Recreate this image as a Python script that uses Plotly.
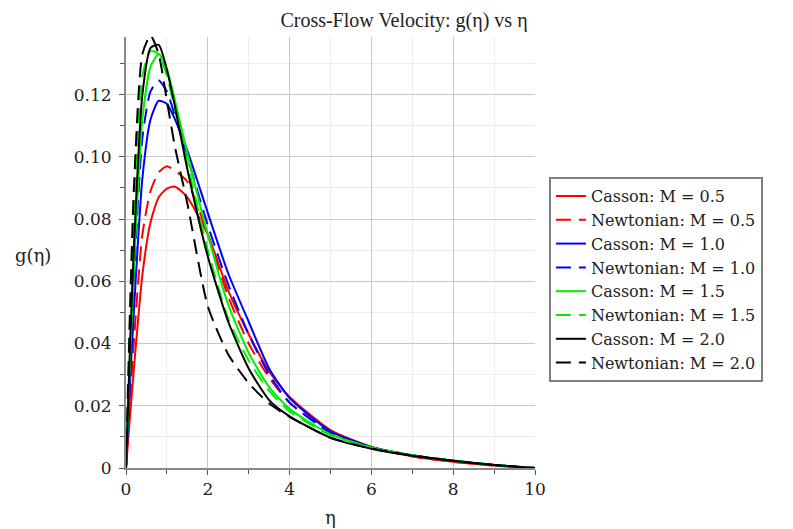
import plotly.graph_objects as go

eta = [0, 0.1, 0.2, 0.4, 0.6, 0.8, 1.0, 1.2, 1.5, 2.0, 2.5, 3.0, 3.5, 4.0, 5.0, 6.0, 7.0, 8.0, 9.0, 10.0]

casson_05 = [0, 0.017, 0.033, 0.062, 0.079, 0.087, 0.0898, 0.0904, 0.087, 0.075, 0.057, 0.043, 0.0310, 0.0228, 0.0122, 0.0068, 0.0038, 0.0020, 0.0008, 0]
newton_05 = [0, 0.022, 0.042, 0.075, 0.089, 0.095, 0.097, 0.0955, 0.092, 0.075, 0.055, 0.040, 0.0290, 0.0210, 0.0116, 0.0066, 0.0037, 0.0020, 0.0008, 0]
casson_10 = [0, 0.028, 0.052, 0.093, 0.112, 0.118, 0.117, 0.112, 0.102, 0.082, 0.0625, 0.047, 0.0320, 0.0225, 0.0118, 0.0068, 0.0041, 0.0023, 0.0010, 0]
newton_10 = [0, 0.034, 0.063, 0.106, 0.121, 0.1245, 0.121, 0.113, 0.100, 0.078, 0.059, 0.043, 0.0300, 0.0210, 0.0113, 0.0067, 0.0041, 0.0024, 0.0010, 0]
casson_15 = [0, 0.036, 0.066, 0.112, 0.129, 0.133, 0.128, 0.118, 0.101, 0.075, 0.0525, 0.037, 0.0260, 0.0190, 0.0108, 0.0066, 0.0040, 0.0023, 0.0010, 0]
newton_15 = [0, 0.045, 0.082, 0.126, 0.134, 0.133, 0.126, 0.115, 0.098, 0.070, 0.048, 0.0345, 0.0248, 0.0182, 0.0105, 0.0066, 0.0041, 0.0024, 0.0010, 0]
casson_20 = [0, 0.040, 0.073, 0.120, 0.135, 0.136, 0.128, 0.116, 0.096, 0.068, 0.047, 0.032, 0.0218, 0.0166, 0.0097, 0.0062, 0.0039, 0.0023, 0.0010, 0]
newton_20 = [0, 0.052, 0.092, 0.133, 0.139, 0.133, 0.118, 0.103, 0.085, 0.052, 0.0365, 0.0273, 0.0207, 0.0164, 0.0097, 0.0063, 0.0040, 0.0023, 0.0010, 0]

series = [
    ("Casson: M = 0.5", casson_05, "#ff0000", "solid"),
    ("Newtonian: M = 0.5", newton_05, "#ff0000", "15px,8px"),
    ("Casson: M = 1.0", casson_10, "#0000ff", "solid"),
    ("Newtonian: M = 1.0", newton_10, "#0000ff", "15px,8px"),
    ("Casson: M = 1.5", casson_15, "#00ee00", "solid"),
    ("Newtonian: M = 1.5", newton_15, "#00ee00", "15px,8px"),
    ("Casson: M = 2.0", casson_20, "#000000", "solid"),
    ("Newtonian: M = 2.0", newton_20, "#000000", "15px,8px"),
]

x_ticks = [0, 2, 4, 6, 8, 10]
y_ticks = [0, 0.02, 0.04, 0.06, 0.08, 0.10, 0.12]
y_tick_text = ["0", "0.02", "0.04", "0.06", "0.08", "0.10", "0.12"]

fig = go.Figure()
for name, vals, color, dash in series:
    fig.add_trace(go.Scatter(
        x=eta, y=vals, name=name, mode="lines",
        line=dict(color=color, width=2, dash=dash, shape="spline", smoothing=0.6),
    ))

text_color = "#222222"
tick_font = dict(family="DejaVu Serif", size=17, color=text_color)

# page body has an 8px margin, so the figure is 8px smaller and shifted
fig.update_layout(
    width=785, height=521,
    margin=dict(l=118, r=258, t=29, b=61),
    paper_bgcolor="white", plot_bgcolor="white",
    title=dict(text="Cross-Flow Velocity: g(η) vs η", x=396/785, xanchor="center",
               y=1 - 12/521, yanchor="middle",
               font=dict(family="Liberation Serif", size=20, color=text_color)),
    legend=dict(x=1.034, y=0.675, xanchor="left", yanchor="top",
                bordercolor="#808080", borderwidth=2, bgcolor="white",
                font=dict(family="DejaVu Serif", size=16, color=text_color),
                tracegroupgap=0),
    showlegend=True,
)

fig.update_xaxes(
    range=[0, 10], tickvals=x_ticks, ticks="outside", ticklen=5, tickcolor="#555555",
    showline=True, linecolor="#888888", linewidth=2,
    showgrid=True, gridcolor="#c8c8c8", gridwidth=1,
    minor=dict(dtick=1, showgrid=True, gridcolor="#ececec", ticks="outside", ticklen=4, tickcolor="#555555"),
    zeroline=False, tickfont=tick_font,
)
fig.update_yaxes(
    range=[0, 0.1385], tickvals=y_ticks, ticktext=y_tick_text, ticks="outside", ticklen=5, tickcolor="#555555",
    showline=True, linecolor="#888888", linewidth=2,
    showgrid=True, gridcolor="#c8c8c8", gridwidth=1,
    minor=dict(dtick=0.01, showgrid=True, gridcolor="#ececec", ticks="outside", ticklen=4, tickcolor="#555555"),
    zeroline=False, tickfont=tick_font, ticklabelstandoff=4,
)

fig.add_annotation(text="g(η)", xref="paper", yref="paper", x=-(126 - 33) / 409, y=(468 - 255) / 431,
                   xanchor="center", yanchor="middle", showarrow=False,
                   font=dict(family="DejaVu Serif", size=18, color=text_color))
fig.add_annotation(text="η", xref="paper", yref="paper", x=(330 - 126) / 409, y=-(517 - 468) / 431,
                   xanchor="center", yanchor="middle", showarrow=False,
                   font=dict(family="DejaVu Serif", size=18, color=text_color))

fig.write_html("out.html")
